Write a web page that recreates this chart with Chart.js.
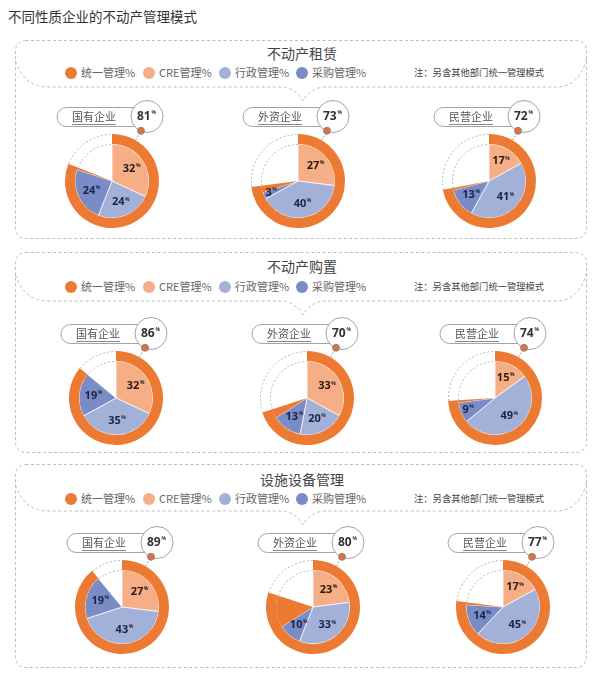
<!DOCTYPE html>
<html>
<head>
<meta charset="utf-8">
<script src="https://cdn.jsdelivr.net/npm/chart.js@4/dist/chart.umd.min.js"></script>
<style>
  body { margin: 0; background: #fff; }
  #page { position: relative; width: 600px; height: 675px; overflow: hidden;
          font-family: "Noto Sans CJK SC", "Noto Sans", sans-serif; }
  #frames { position: absolute; left: 0; top: 0; }
  .txt { position: absolute; white-space: nowrap; }
  .main-title { left: 8px; top: 6px; font-size: 13.5px; color: #333; }
  .sec-title { width: 200px; text-align: center; font-size: 14px; color: #444; }
  .legend-item { font-size: 11px; color: #666; }
  .legend-item i { display: inline-block; width: 12px; height: 12px; border-radius: 50%;
                   vertical-align: -2px; margin-right: 4px; }
  .note { font-size: 9.3px; color: #444; }
  canvas { position: absolute; }
</style>
</head>
<body>
<div id="page">
  <svg id="frames" width="600" height="675"></svg>
  <div class="txt main-title">不同性质企业的不动产管理模式</div>
</div>
<script>
// data
var sections = ['不动产租赁', '不动产购置', '设施设备管理'];
var companies = ['国有企业', '外资企业', '民营企业'];
var seriesNames = ['统一管理%', 'CRE管理%', '行政管理%', '采购管理%'];
var noteText = '注：另含其他部门统一管理模式';
// rows = sections, columns = companies
var unifiedPct = [[81, 73, 72], [86, 70, 74], [89, 80, 77]];
var crePct = [[32, 27, 17], [32, 33, 15], [27, 23, 17]];
var adminPct = [[24, 40, 41], [35, 20, 49], [43, 33, 45]];
var purchasePct = [[24, 3, 13], [19, 13, 9], [19, 10, 14]];

// layout
var colors = ['#ec7a33', '#f5ae86', '#a3b0d8', '#7a8cc6'];
var panelTop = [40, 252, 464];
var panelBottom = [238, 452, 667];
var titleY = [53, 266, 479];
var legendY = [72, 286, 498];
var headerY = [87, 301, 511];
var pieY = [181, 398, 607];
var pieX = [[112, 298, 489], [116, 307, 495], [122, 313, 503]];
var legendX = [71, 149, 225, 302];
var CW = 180, CH = 150, OX = 70, OY = 95;

var page = document.getElementById('page');
var svg = document.getElementById('frames');

function addText(cls, text, left, top) {
    var d = document.createElement('div');
    d.className = 'txt ' + cls;
    d.textContent = text;
    d.style.left = left + 'px';
    d.style.top = top + 'px';
    page.appendChild(d);
    return d;
}

// dashed frames and header bubbles
var svgParts = '';
sections.forEach(function (name, s) {
    var t = panelTop[s], b = panelBottom[s], h = headerY[s], vx = 303;
    svgParts += '<rect x="15.5" y="' + (t + 0.5) + '" width="571" height="' + (b - t) +
        '" rx="10" fill="none" stroke="#bdbdbd" stroke-width="1" stroke-dasharray="3 2.5"/>';
    svgParts += '<path d="M15.5 ' + (h - 26) + ' Q24 ' + h + ' 48 ' + h + ' L' + (vx - 19) + ' ' + h +
        ' Q' + (vx - 6) + ' ' + (h + 3) + ' ' + vx + ' ' + (h + 14) +
        ' Q' + (vx + 6) + ' ' + (h + 3) + ' ' + (vx + 19) + ' ' + h +
        ' L556 ' + h + ' Q579 ' + h + ' 586.5 ' + (h - 28) +
        '" fill="none" stroke="#bdbdbd" stroke-width="1" stroke-dasharray="3 2.5"/>';

    addText('sec-title', name, 202, titleY[s] - 10);
    seriesNames.forEach(function (sn, k) {
        var el = addText('legend-item', '', legendX[k] - 6, legendY[s] - 8);
        el.innerHTML = '<i style="background:' + colors[k] + '"></i>' + sn;
    });
    addText('note', noteText, 414, legendY[s] - 7);
});
svg.innerHTML = svgParts;

// dashed arcs over the empty part, slice labels, badge
var pieDecor = {
    id: 'pieDecor',
    afterDatasetsDraw: function (chart) {
        var ctx = chart.ctx;
        ctx.save();
        ctx.strokeStyle = '#a9b4c6';
        ctx.lineWidth = 1;
        ctx.setLineDash([2, 2]);
        [0, 1].forEach(function (d) {
            var els = chart.getDatasetMeta(d).data;
            var p = els[els.length - 1].getProps(['x', 'y', 'startAngle', 'endAngle', 'outerRadius'], true);
            ctx.beginPath();
            ctx.arc(p.x, p.y, p.outerRadius - 0.5, p.startAngle, p.endAngle);
            ctx.stroke();
        });
        ctx.restore();

        // value labels
        var meta = chart.getDatasetMeta(1);
        var vals = chart.data.datasets[1].data;
        ctx.save();
        ctx.textBaseline = 'middle';
        for (var i = 0; i < 3; i++) {
            var p = meta.data[i].getProps(['x', 'y', 'startAngle', 'endAngle', 'outerRadius'], true);
            var mid = (p.startAngle + p.endAngle) / 2;
            var rr = p.outerRadius * (vals[i] < 10 ? 0.8 : 0.62);
            var lx = p.x + Math.cos(mid) * rr, ly = p.y + Math.sin(mid) * rr;
            ctx.fillStyle = i === 0 ? '#2a1a12' : '#1b2447';
            ctx.font = 'bold 11px "Open Sans", "Liberation Sans", sans-serif';
            var w1 = ctx.measureText(String(vals[i])).width;
            ctx.font = 'bold 5px "Open Sans", sans-serif';
            var w2 = ctx.measureText('%').width;
            var sx = lx - (w1 + w2) / 2;
            ctx.font = 'bold 11px "Open Sans", "Liberation Sans", sans-serif';
            ctx.textAlign = 'left';
            ctx.fillText(String(vals[i]), sx, ly);
            ctx.font = 'bold 5px "Open Sans", sans-serif';
            ctx.fillText('%', sx + w1 + 0.5, ly - 3);
        }
        ctx.restore();

        // badge with company name and unified percentage
        var ring = chart.getDatasetMeta(0).data[0].getProps(['x', 'y', 'outerRadius'], true);
        var x = ring.x, y = ring.y, R = ring.outerRadius;
        var opt = chart.options.plugins.pieDecor;
        ctx.save();
        ctx.strokeStyle = '#a3a3a3';
        ctx.fillStyle = '#fff';
        ctx.lineWidth = 1;
        var pl = x - 55, pr = x + 30, pt = y - 73.5, ph = 19;
        ctx.beginPath();
        ctx.moveTo(pl + ph / 2, pt);
        ctx.lineTo(pr, pt);
        ctx.lineTo(pr, pt + ph);
        ctx.lineTo(pl + ph / 2, pt + ph);
        ctx.arc(pl + ph / 2, pt + ph / 2, ph / 2, Math.PI / 2, Math.PI * 1.5);
        ctx.closePath();
        ctx.fill();
        ctx.stroke();

        var bx = x + 35, by = y - 64.5, br = 16;
        ctx.beginPath();
        ctx.arc(bx, by, br, 0, Math.PI * 2);
        ctx.fill();
        ctx.stroke();

        ctx.fillStyle = '#555';
        ctx.font = '11px "Noto Sans CJK SC", sans-serif';
        ctx.textAlign = 'center';
        ctx.textBaseline = 'middle';
        var tx = x - 18, ty = pt + ph / 2;
        ctx.fillText(opt.company, tx, ty);
        var tw = ctx.measureText(opt.company).width;
        ctx.strokeStyle = '#888';
        ctx.beginPath();
        ctx.moveTo(tx - tw / 2, ty + 7.5);
        ctx.lineTo(tx + tw / 2, ty + 7.5);
        ctx.stroke();

        ctx.fillStyle = '#333';
        ctx.font = 'bold 12px "Open Sans", sans-serif';
        var n = String(opt.unified);
        var nw = ctx.measureText(n).width;
        ctx.font = 'bold 5px "Open Sans", sans-serif';
        var pw = ctx.measureText('%').width;
        ctx.textAlign = 'left';
        ctx.font = 'bold 12px "Open Sans", sans-serif';
        ctx.fillText(n, bx - (nw + pw) / 2 - 1, by);
        ctx.font = 'bold 5px "Open Sans", sans-serif';
        ctx.fillText('%', bx - (nw + pw) / 2 + nw, by - 3.5);

        // leader from ring to dot
        var a = Math.PI / 6;
        var dx = x + Math.sin(a) * (R + 11), dy = y - Math.cos(a) * (R + 11);
        ctx.strokeStyle = '#9a9a9a';
        ctx.setLineDash([2, 1.5]);
        ctx.beginPath();
        ctx.moveTo(x + Math.sin(a) * R, y - Math.cos(a) * R);
        ctx.lineTo(dx, dy);
        ctx.stroke();
        ctx.setLineDash([]);
        ctx.beginPath();
        ctx.arc(dx, dy, 3.5, 0, Math.PI * 2);
        ctx.fillStyle = '#e0703c';
        ctx.fill();
        ctx.strokeStyle = '#8a8a8a';
        ctx.stroke();
        ctx.restore();
    }
};

var clear = 'rgba(0,0,0,0)';
sections.forEach(function (name, s) {
    companies.forEach(function (company, c) {
        var u = unifiedPct[s][c];
        var parts = [crePct[s][c], adminPct[s][c], purchasePct[s][c]];
        var gap = u - parts[0] - parts[1] - parts[2];

        var cv = document.createElement('canvas');
        cv.width = CW;
        cv.height = CH;
        cv.style.left = (pieX[s][c] - OX) + 'px';
        cv.style.top = (pieY[s] - OY) + 'px';
        page.appendChild(cv);

        new Chart(cv, {
            type: 'doughnut',
            data: {
                labels: ['统一管理%', 'CRE管理%', '行政管理%', '采购管理%', ''],
                datasets: [{
                    data: [u, 100 - u],
                    backgroundColor: [colors[0], clear],
                    borderWidth: 0,
                    weight: 10
                }, {
                    data: parts.concat([gap, 100 - u]),
                    backgroundColor: [colors[1], colors[2], colors[3], colors[0], clear],
                    borderColor: 'rgba(255,255,255,0.75)',
                    borderWidth: [1, 1, 1, 0, 0],
                    weight: 37
                }]
            },
            options: {
                responsive: false,
                animation: false,
                events: [],
                radius: 47,
                cutout: 0,
                layout: { padding: { left: 0, right: CW - 2 * OX, top: 2 * OY - CH, bottom: 0 } },
                plugins: {
                    legend: { display: false },
                    tooltip: { enabled: false },
                    pieDecor: { company: company, unified: u }
                }
            },
            plugins: [pieDecor]
        });
    });
});
</script>
</body>
</html>
